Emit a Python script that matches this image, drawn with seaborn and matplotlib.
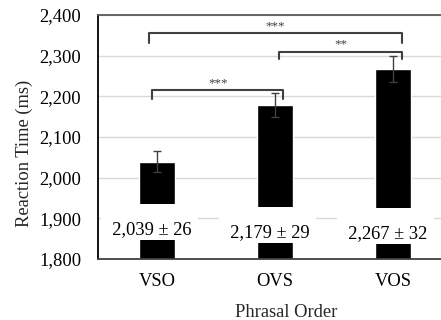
import matplotlib
matplotlib.use("Agg")
import matplotlib.pyplot as plt
import seaborn as sns
import pandas as pd

categories = ["VSO", "OVS", "VOS"]
means = [2039, 2179, 2267]
sems = [26, 29, 32]
value_labels = ["2,039 ± 26", "2,179 ± 29", "2,267 ± 32"]
label_base_y = [1861, 1854, 1852]
yticks = [1800, 1900, 2000, 2100, 2200, 2300, 2400]
ytick_labels = ["1,800", "1,900", "2,000", "2,100", "2,200", "2,300", "2,400"]
# brackets: (left idx, right idx, height, leg length, stars, left offset, right offset)
brackets = [
    (0, 1, 2215, 22, "***", -0.04, 0.07),
    (1, 2, 2309, 17, "**", 0.03, 0.08),
    (0, 2, 2355, 25, "***", -0.07, 0.08),
]

sns.set_theme(style="white")
plt.rcParams["font.family"] = ["Liberation Serif", "DejaVu Serif"]

fig = plt.figure(figsize=(4.41, 3.2), dpi=100)
ax = fig.add_axes([98 / 441, 61 / 320, 343 / 441, 244 / 320])

df = pd.DataFrame({"order": categories, "rt": means})
sns.barplot(data=df, x="order", y="rt", order=categories, color="black",
            width=0.31, ax=ax, zorder=2, errorbar=None, saturation=1)

ax.errorbar(range(len(categories)), means, yerr=sems, fmt="none",
            ecolor="#404040", elinewidth=1.0, capsize=3.2, capthick=1.0, zorder=3)

for i, (lab, ly) in enumerate(zip(value_labels, label_base_y)):
    # leading empty line enlarges the white box upward, as in the reference
    ax.text(i - 0.062, ly, "\n  " + lab + " ", ha="center", va="baseline",
            fontsize=13.3, color="black", zorder=6, linespacing=0.84,
            bbox=dict(boxstyle="square,pad=0.1", facecolor="white", edgecolor="none"))

for (a, b, h, leg, stars, lo, ro) in brackets:
    xa = a + lo
    xb = b + ro
    ax.plot([xa, xa, xb, xb], [h - leg, h, h, h - leg], color="#404040",
            lw=1.5, zorder=4, clip_on=False)
    ax.text((xa + xb) / 2, h + 3, stars, ha="center", va="bottom",
            fontsize=9.4, color="#404040")

ax.set_ylim(1800, 2400)
ax.set_xlim(-0.5, 2.407)
ax.set_yticks(yticks)
ax.set_yticklabels(ytick_labels)
ax.yaxis.grid(True, color="#d9d9d9", lw=1.0, zorder=0)
ax.set_axisbelow(True)
ax.tick_params(axis="y", length=0, pad=12, labelsize=13.3, colors="black")
ax.tick_params(axis="x", length=0, pad=10, labelsize=13.3, colors="black")

ax.set_xlabel("Phrasal Order", fontsize=13.3)
ax.set_ylabel("Reaction Time (ms)", fontsize=13.3)
ax.xaxis.set_label_coords(0.548, -0.184)
ax.yaxis.set_label_coords(-0.19, 0.432)

for s in ["left", "bottom", "top"]:
    ax.spines[s].set_visible(True)
    ax.spines[s].set_linewidth(1.3)
ax.spines["left"].set_color("black")
ax.spines["bottom"].set_color("#404040")
ax.spines["top"].set_color("#595959")
ax.spines["right"].set_visible(False)

fig.savefig("out.png", dpi=100)
